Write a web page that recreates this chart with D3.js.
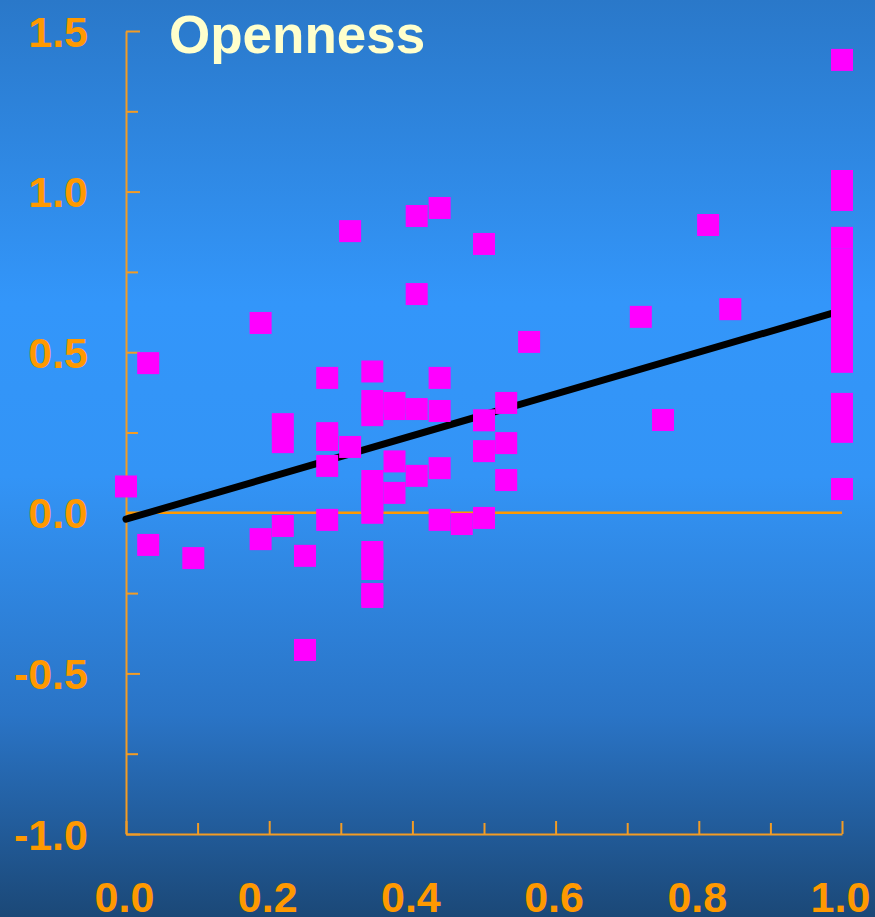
<!DOCTYPE html>
<html lang="en">
<meta charset="utf-8">
<head>
    <script src="https://d3js.org/d3.v7.min.js"></script>
    <style>
        body { margin: 0; }
        svg { display: block; }
    </style>
</head>
<body>
<script>

// data
var title = "Openness";
var xTicks = [0, 0.1, 0.2, 0.3, 0.4, 0.5, 0.6, 0.7, 0.8, 0.9, 1.0];
var yTicks = [-1.0, -0.75, -0.5, -0.25, 0, 0.25, 0.5, 0.75, 1.0, 1.25, 1.5];
var xVals = [
    0, 0.031, 0.031, 0.094, 0.188, 0.188, 0.219, 0.219, 0.219, 0.25, 0.25,
    0.281, 0.281, 0.281, 0.281, 0.281, 0.313, 0.313,
    0.344, 0.344, 0.344, 0.344, 0.344, 0.344, 0.344, 0.344, 0.344, 0.344, 0.344, 0.344,
    0.375, 0.375, 0.375, 0.375, 0.406, 0.406, 0.406, 0.406,
    0.438, 0.438, 0.438, 0.438, 0.438, 0.469, 0.5, 0.5, 0.5, 0.5,
    0.531, 0.531, 0.531, 0.563, 0.719, 0.75, 0.813, 0.844,
    1, 1, 1, 1, 1, 1, 1, 1, 1, 1, 1, 1, 1, 1, 1, 1, 1
];
var yVals = [
    0.082, 0.466, -0.100, -0.141, 0.591, -0.082, 0.276, 0.220, -0.041, -0.134, -0.427,
    0.420, 0.248, 0.227, 0.146, -0.022, 0.877, 0.205,
    0.440, 0.348, 0.304, 0.099, 0.065, 0.031, 0.000, -0.122, -0.147, -0.175, -0.253, -0.262,
    0.342, 0.323, 0.160, 0.062, 0.924, 0.681, 0.323, 0.115,
    0.949, 0.420, 0.317, 0.139, -0.022, -0.035, 0.837, 0.288, 0.192, -0.016,
    0.342, 0.217, 0.102, 0.532, 0.610, 0.289, 0.896, 0.634,
    1.410, 1.033, 1.005, 0.974, 0.856, 0.787, 0.750, 0.709, 0.663, 0.616, 0.569, 0.523, 0.470,
    0.339, 0.289, 0.252, 0.074
];
// fitted line end points
var fitX = [0, 1];
var fitY = [-0.02, 0.63];

var width = 875, height = 917;
var orange = "#ff9900";
var font = "'Liberation Sans', Arial, sans-serif";

// plain hyphen for negatives, one decimal
function fmt(d) { return (d < 0 ? "-" : "") + Math.abs(d).toFixed(1); }

var svg = d3.select("body").append("svg")
    .attr("width", width)
    .attr("height", height);

// background
var grad = svg.append("defs").append("linearGradient")
    .attr("id", "bg")
    .attr("x1", 0).attr("y1", 0).attr("x2", 0).attr("y2", 1);
grad.append("stop").attr("offset", "0").attr("stop-color", "#2a78c9");
grad.append("stop").attr("offset", "0.33").attr("stop-color", "#3396fa");
grad.append("stop").attr("offset", "0.52").attr("stop-color", "#3394f6");
grad.append("stop").attr("offset", "0.78").attr("stop-color", "#2a74c6");
grad.append("stop").attr("offset", "1").attr("stop-color", "#1b4877");
svg.append("rect")
    .attr("width", width).attr("height", height)
    .attr("fill", "url(#bg)");

var x = d3.scaleLinear().domain([0, 1]).range([126, 842]);
var y = d3.scaleLinear().domain([-1, 1.5]).range([834, 31]);

function isHalf(d) { return Math.abs(d * 2 - Math.round(d * 2)) < 1e-9; }

// Y axis, ticks point inward
var yAxis = svg.append("g")
    .attr("transform", "translate(" + x(0) + ",0)")
    .call(d3.axisLeft(y)
        .tickValues(yTicks)
        .tickSizeInner(-14)
        .tickSizeOuter(0)
        .tickPadding(38)
        .tickFormat(function(d) { return isHalf(d) ? fmt(d) : ""; }));
yAxis.selectAll("line").attr("x2", function(d) { return isHalf(d) ? 14 : 12; });

// X axis at the bottom
var xAxis = svg.append("g")
    .attr("transform", "translate(0," + y(-1) + ")")
    .call(d3.axisBottom(x)
        .tickValues(xTicks)
        .tickSizeInner(-13)
        .tickSizeOuter(0)
        .tickPadding(47)
        .tickFormat(function(d) { return Math.round(d * 10) % 2 == 0 ? fmt(d) : ""; }));
xAxis.selectAll("line").attr("y2", function(d) { return Math.round(d * 10) % 2 == 0 ? -13 : -11; });
xAxis.selectAll(".tick text").attr("dx", -2);

svg.selectAll(".domain, .tick line")
    .attr("stroke", "#f39c24")
    .attr("stroke-width", 2);
svg.selectAll(".tick text")
    .attr("fill", orange)
    .style("font-family", font)
    .style("font-weight", "bold")
    .style("font-size", "43px");
yAxis.selectAll(".tick text").attr("dy", "0.35em");

// zero line
svg.append("line")
    .attr("x1", x(0)).attr("x2", x(1))
    .attr("y1", y(0)).attr("y2", y(0))
    .attr("stroke", orange)
    .attr("stroke-width", 2.5);

// fitted line
var fit = fitX.map(function(d, i) { return {x: d, y: fitY[i]}; });
svg.append("path")
    .datum(fit)
    .attr("fill", "none")
    .attr("stroke", "black")
    .attr("stroke-width", 7)
    .attr("stroke-linecap", "round")
    .attr("d", d3.line()
        .x(function(d) { return x(d.x); })
        .y(function(d) { return y(d.y); }));

// points
var pts = xVals.map(function(d, i) { return {x: d, y: yVals[i]}; });
var s = 22;
svg.selectAll(".pt")
    .data(pts)
    .enter().append("rect")
    .attr("class", "pt")
    .attr("x", function(d) { return x(d.x) - s / 2; })
    .attr("y", function(d) { return y(d.y) - s / 2; })
    .attr("width", s)
    .attr("height", s)
    .attr("fill", "#ff00ff");

// title
svg.append("text")
    .attr("x", 169)
    .attr("y", 53)
    .attr("fill", "#ffffcc")
    .style("font-family", font)
    .style("font-weight", "bold")
    .style("font-size", "53px")
    .text(title);

</script>
</body>
</html>
